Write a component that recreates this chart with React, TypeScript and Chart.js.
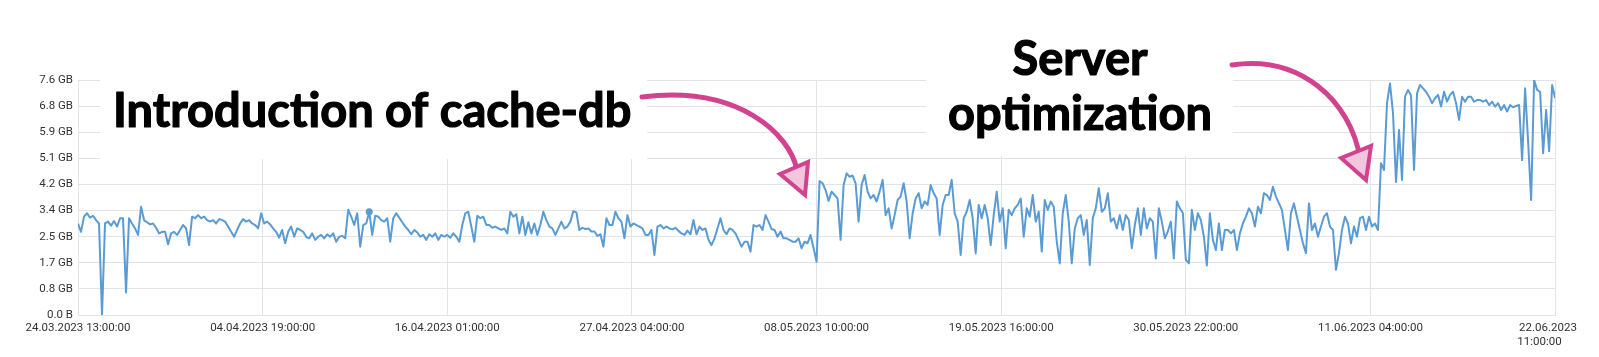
import React, { useEffect, useRef } from "react";
import { Chart, registerables } from "chart.js";

Chart.register(...registerables);

// Time axis: 24.03.2023 13:00 -> 22.06.2023 11:00 (hours)
const TOTAL_HOURS = 2158;
const Y_MAX = 7.6; // GB

const xTickLabels: (string | string[])[] = [
  "24.03.2023 13:00:00",
  "04.04.2023 19:00:00",
  "16.04.2023 01:00:00",
  "27.04.2023 04:00:00",
  "08.05.2023 10:00:00",
  "19.05.2023 16:00:00",
  "30.05.2023 22:00:00",
  "11.06.2023 04:00:00",
  ["22.06.2023     ", "11:00:00           "],
];

const yTickLabels = ["0.0 B", "0.8 GB", "1.7 GB", "2.5 GB", "3.4 GB", "4.2 GB", "5.1 GB", "5.9 GB", "6.8 GB", "7.6 GB"];

// Memory usage (GB), evenly sampled readings, one array per two axis intervals
const usageMarchApril = [
  2.96, 2.69, 3.18, 3.29, 3.15, 3.21, 3.07, 2.96, 0.0, 2.96,
  3.02, 2.89, 3.04, 2.86, 3.13, 3.13, 0.73, 3.13, 2.96, 2.8,
  2.59, 3.5, 3.07, 3.0, 2.93, 2.96, 2.82, 2.64, 2.69, 2.69,
  2.29, 2.64, 2.69, 2.59, 2.75, 2.91, 2.8, 2.26, 3.18, 3.13,
  3.23, 3.13, 3.18, 3.07, 3.02, 3.07, 2.96, 3.1, 3.07, 3.02,
  2.86, 2.69, 2.53, 2.75, 2.96, 3.1, 3.02, 3.07, 2.96, 2.91,
  2.8, 3.29, 2.96, 3.02, 2.93, 2.8, 2.69, 2.5, 2.75, 2.32,
  2.69, 2.86, 2.53, 2.8, 2.75, 2.69, 2.53, 2.48, 2.64, 2.43,
  2.53, 2.59, 2.48, 2.61, 2.53, 2.64, 2.37, 2.53, 2.56, 2.48,
  3.4, 3.18, 2.91, 3.29, 2.21, 2.91, 2.96, 3.34, 2.59, 3.21,
  3.18, 3.07, 3.02, 3.13, 2.37, 3.13, 3.29, 3.15, 3.0, 2.86,
  2.75, 2.61, 2.75, 2.67, 2.53, 2.59, 2.43, 2.61, 2.53, 2.64,
  2.43, 2.59, 2.53,
];

const usageAprilMay = [
  2.59, 2.5, 2.64, 2.53, 2.37, 2.91, 3.29, 3.34, 2.86, 2.37,
  3.21, 3.13, 3.18, 2.91, 2.91, 2.82, 2.86, 2.8, 2.75, 2.8,
  2.64, 3.34, 3.18, 3.26, 2.64, 3.18, 2.59, 3.0, 2.64, 2.96,
  2.59, 2.91, 3.34, 3.07, 2.86, 2.8, 2.59, 2.8, 3.02, 2.8,
  2.86, 3.02, 3.36, 3.32, 2.75, 2.82, 2.78, 2.8, 2.7, 2.7,
  2.56, 2.61, 2.21, 3.13, 2.91, 2.91, 3.34, 3.13, 3.02, 2.48,
  3.23, 2.86, 2.96, 2.91, 2.86, 2.8, 2.59, 2.59, 2.75, 1.94,
  2.86, 2.91, 2.8, 2.86, 2.8, 2.77, 2.82, 2.72, 2.64, 2.59,
  2.73, 2.61, 3.07, 2.61, 2.86, 2.75, 2.8, 2.43, 2.26, 2.48,
  2.8, 3.13, 2.75, 2.61, 2.8, 2.75, 2.64, 2.43, 2.21, 2.37,
  2.37, 2.05, 2.91, 2.86, 2.91, 2.75, 3.23, 3.02, 2.78, 2.75,
  2.53, 2.7, 2.48, 2.48, 2.43, 2.37, 2.37, 2.48, 2.16, 2.37,
  2.32, 2.59, 2.16,
];

const usageMayJune = [
  1.72, 4.33, 4.26, 4.04, 3.69, 3.99, 3.88, 3.77, 2.43, 4.2,
  4.58, 4.47, 4.51, 4.26, 3.02, 4.2, 4.53, 3.99, 3.77, 3.88,
  3.67, 3.99, 4.37, 3.23, 3.45, 2.8, 3.23, 3.72, 3.83, 4.26,
  3.67, 2.48, 3.29, 3.77, 3.94, 3.45, 3.67, 3.56, 4.2, 3.94,
  3.77, 2.59, 3.56, 3.88, 3.88, 4.37, 3.29, 3.02, 1.94, 3.13,
  3.34, 3.72, 3.13, 1.99, 3.56, 3.13, 3.56, 3.13, 2.26, 3.23,
  3.99, 3.02, 3.45, 2.16, 3.4, 3.23, 3.45, 3.56, 3.77, 2.53,
  3.45, 3.18, 3.88, 3.02, 3.34, 2.05, 3.72, 3.4, 3.67, 3.5,
  2.37, 1.67, 3.29, 3.88, 3.02, 1.67, 2.8, 3.13, 3.23, 2.59,
  3.07, 1.62, 3.13, 3.45, 4.1, 3.34, 3.45, 3.94, 3.02, 3.13,
  2.8, 3.23, 2.75, 3.23, 3.07, 2.16, 2.91, 3.45, 2.59, 3.45,
  2.8, 3.13, 3.02, 1.83, 3.45, 3.02, 2.48, 2.7, 3.02, 1.83,
  3.67, 3.45, 3.3,
];

const usageJune = [
  1.78, 1.67, 3.4, 2.75, 3.29, 3.07, 2.53, 1.6, 3.29, 2.43,
  2.1, 2.96, 2.1, 2.75, 2.75, 2.64, 2.75, 2.1, 2.64, 2.96,
  3.18, 3.45, 3.29, 2.86, 3.5, 3.29, 3.94, 3.88, 3.72, 4.15,
  3.83, 3.61, 3.4, 2.75, 2.1, 3.29, 3.61, 3.18, 2.75, 2.32,
  2.0, 3.61, 2.75, 2.96, 2.53, 2.86, 3.18, 3.29, 2.86, 2.75,
  1.46, 2.0, 2.75, 3.18, 2.96, 2.32, 2.86, 2.53, 3.13, 3.18,
  2.75, 3.18, 2.86, 2.96, 2.75, 4.91, 4.69, 6.85, 7.49, 6.52,
  4.3, 5.98, 4.37, 7.06, 7.28, 7.1, 4.69, 7.17, 7.44, 7.33,
  7.22, 7.06, 6.85, 7.01, 7.12, 6.74, 7.22, 6.9, 7.12, 7.22,
  6.85, 6.31, 7.06, 6.9, 7.06, 7.06, 6.9, 6.95, 6.95, 6.9,
  6.95, 6.79, 6.9, 6.74, 6.85, 6.63, 6.79, 6.58, 6.79, 6.72,
  6.76, 6.79, 5.01, 7.33, 5.6, 3.72, 7.6, 7.28, 7.22, 5.23,
  6.63, 5.3, 7.44,
];

const lastReading = 7.01;
const highlightIndex = 97;

const LINE_COLOR = "#5a9bd3";
const GRID_COLOR = "#dfe4eb";
const PINK = "#d2438f";
const PINK_LIGHT = "#f3c6df";

function buildPoints() {
  const segments = [usageMarchApril, usageAprilMay, usageMayJune, usageJune];
  const span = TOTAL_HOURS / segments.length;
  const pts: { x: number; y: number }[] = [];
  segments.forEach((seg, s) => {
    seg.forEach((v, k) => pts.push({ x: s * span + (k * span) / seg.length, y: v }));
  });
  pts.push({ x: TOTAL_HOURS, y: lastReading });
  return pts;
}

function drawArrow(
  ctx: CanvasRenderingContext2D,
  p: number[],
  tri: number[][]
) {
  ctx.save();
  ctx.strokeStyle = PINK;
  ctx.lineWidth = 5;
  ctx.lineCap = "round";
  ctx.beginPath();
  ctx.moveTo(p[0], p[1]);
  ctx.bezierCurveTo(p[2], p[3], p[4], p[5], p[6], p[7]);
  ctx.stroke();
  ctx.beginPath();
  ctx.moveTo(tri[0][0], tri[0][1]);
  ctx.lineTo(tri[1][0], tri[1][1]);
  ctx.lineTo(tri[2][0], tri[2][1]);
  ctx.closePath();
  ctx.fillStyle = PINK_LIGHT;
  ctx.fill();
  ctx.lineWidth = 4;
  ctx.lineJoin = "miter";
  ctx.stroke();
  ctx.restore();
}

function heavyText(ctx: CanvasRenderingContext2D, text: string, x: number, y: number) {
  ctx.fillText(text, x, y);
  ctx.strokeText(text, x, y);
}

const annotationPlugin = {
  id: "annotationOverlay",
  beforeDatasetsDraw(chart: any) {
    const ctx = chart.ctx as CanvasRenderingContext2D;
    ctx.save();
    ctx.fillStyle = "#ffffff";
    ctx.fillRect(100, 0, 547, 159);
    ctx.fillRect(926, 0, 307, 156);
    ctx.restore();
  },
  afterDraw(chart: any) {
    const ctx = chart.ctx as CanvasRenderingContext2D;
    ctx.save();
    ctx.fillStyle = "#000000";
    ctx.strokeStyle = "#000000";
    ctx.lineWidth = 1.2;
    ctx.lineJoin = "round";
    ctx.font = "bold 47px Lato, 'Open Sans', sans-serif";
    ctx.textBaseline = "alphabetic";
    ctx.textAlign = "left";
    heavyText(ctx, "Introduction of cache-db", 113, 127);
    ctx.textAlign = "center";
    heavyText(ctx, "Server", 1080, 75);
    heavyText(ctx, "optimization", 1080, 130);
    ctx.restore();

    drawArrow(ctx, [642, 97, 740, 85, 790, 135, 797, 170], [
      [780, 174],
      [808, 162],
      [805, 195],
    ]);
    drawArrow(ctx, [1232, 65, 1300, 55, 1350, 100, 1360, 158], [
      [1341, 158],
      [1371, 146],
      [1366, 180],
    ]);
  },
};

export default function App() {
  const canvasRef = useRef<HTMLCanvasElement | null>(null);

  useEffect(() => {
    document.body.style.margin = "0";
    const canvas = canvasRef.current;
    if (!canvas) return;
    const points = buildPoints();
    const tickFont = { family: "Roboto", size: 11.5 };

    const chart = new Chart(canvas, {
      type: "line",
      data: {
        datasets: [
          {
            data: points,
            borderColor: LINE_COLOR,
            backgroundColor: LINE_COLOR,
            borderWidth: 2,
            tension: 0,
            fill: false,
            pointRadius: (c: any) => (c.dataIndex === highlightIndex ? 3.5 : 0),
            pointHoverRadius: 0,
            pointBorderWidth: 0,
            borderJoinStyle: "round",
          },
        ],
      },
      options: {
        responsive: false,
        animation: false,
        devicePixelRatio: 1,
        events: [],
        layout: { padding: { left: 0, right: 43, top: 80, bottom: 0 } },
        plugins: { legend: { display: false }, tooltip: { enabled: false } },
        scales: {
          x: {
            type: "linear",
            min: 0,
            max: TOTAL_HOURS,
            afterBuildTicks: (scale: any) => {
              scale.ticks = xTickLabels.map((_, i) => ({ value: (i * TOTAL_HOURS) / (xTickLabels.length - 1) }));
            },
            afterFit: (scale: any) => {
              scale.height = 42;
            },
            grid: { color: GRID_COLOR, drawTicks: false, lineWidth: 1 },
            border: { color: GRID_COLOR },
            ticks: {
              autoSkip: false,
              maxRotation: 0,
              minRotation: 0,
              padding: 6,
              color: "#333333",
              font: tickFont,
              callback: (_v: any, i: number) => xTickLabels[i],
            },
          },
          y: {
            min: 0,
            max: Y_MAX,
            afterBuildTicks: (scale: any) => {
              scale.ticks = yTickLabels.map((_, i) => ({ value: (i * Y_MAX) / (yTickLabels.length - 1) }));
            },
            afterFit: (scale: any) => {
              scale.width = 78;
            },
            grid: { color: GRID_COLOR, drawTicks: false, lineWidth: 1 },
            border: { color: GRID_COLOR },
            ticks: {
              padding: 5,
              color: "#333333",
              font: tickFont,
              callback: (_v: any, i: number) => yTickLabels[i],
            },
          },
        },
      },
      plugins: [annotationPlugin],
    } as any);

    return () => chart.destroy();
  }, []);

  return (
    <div style={{ width: 1599, height: 357 }}>
      <canvas ref={canvasRef} width={1599} height={357} style={{ display: "block" }} />
    </div>
  );
}
